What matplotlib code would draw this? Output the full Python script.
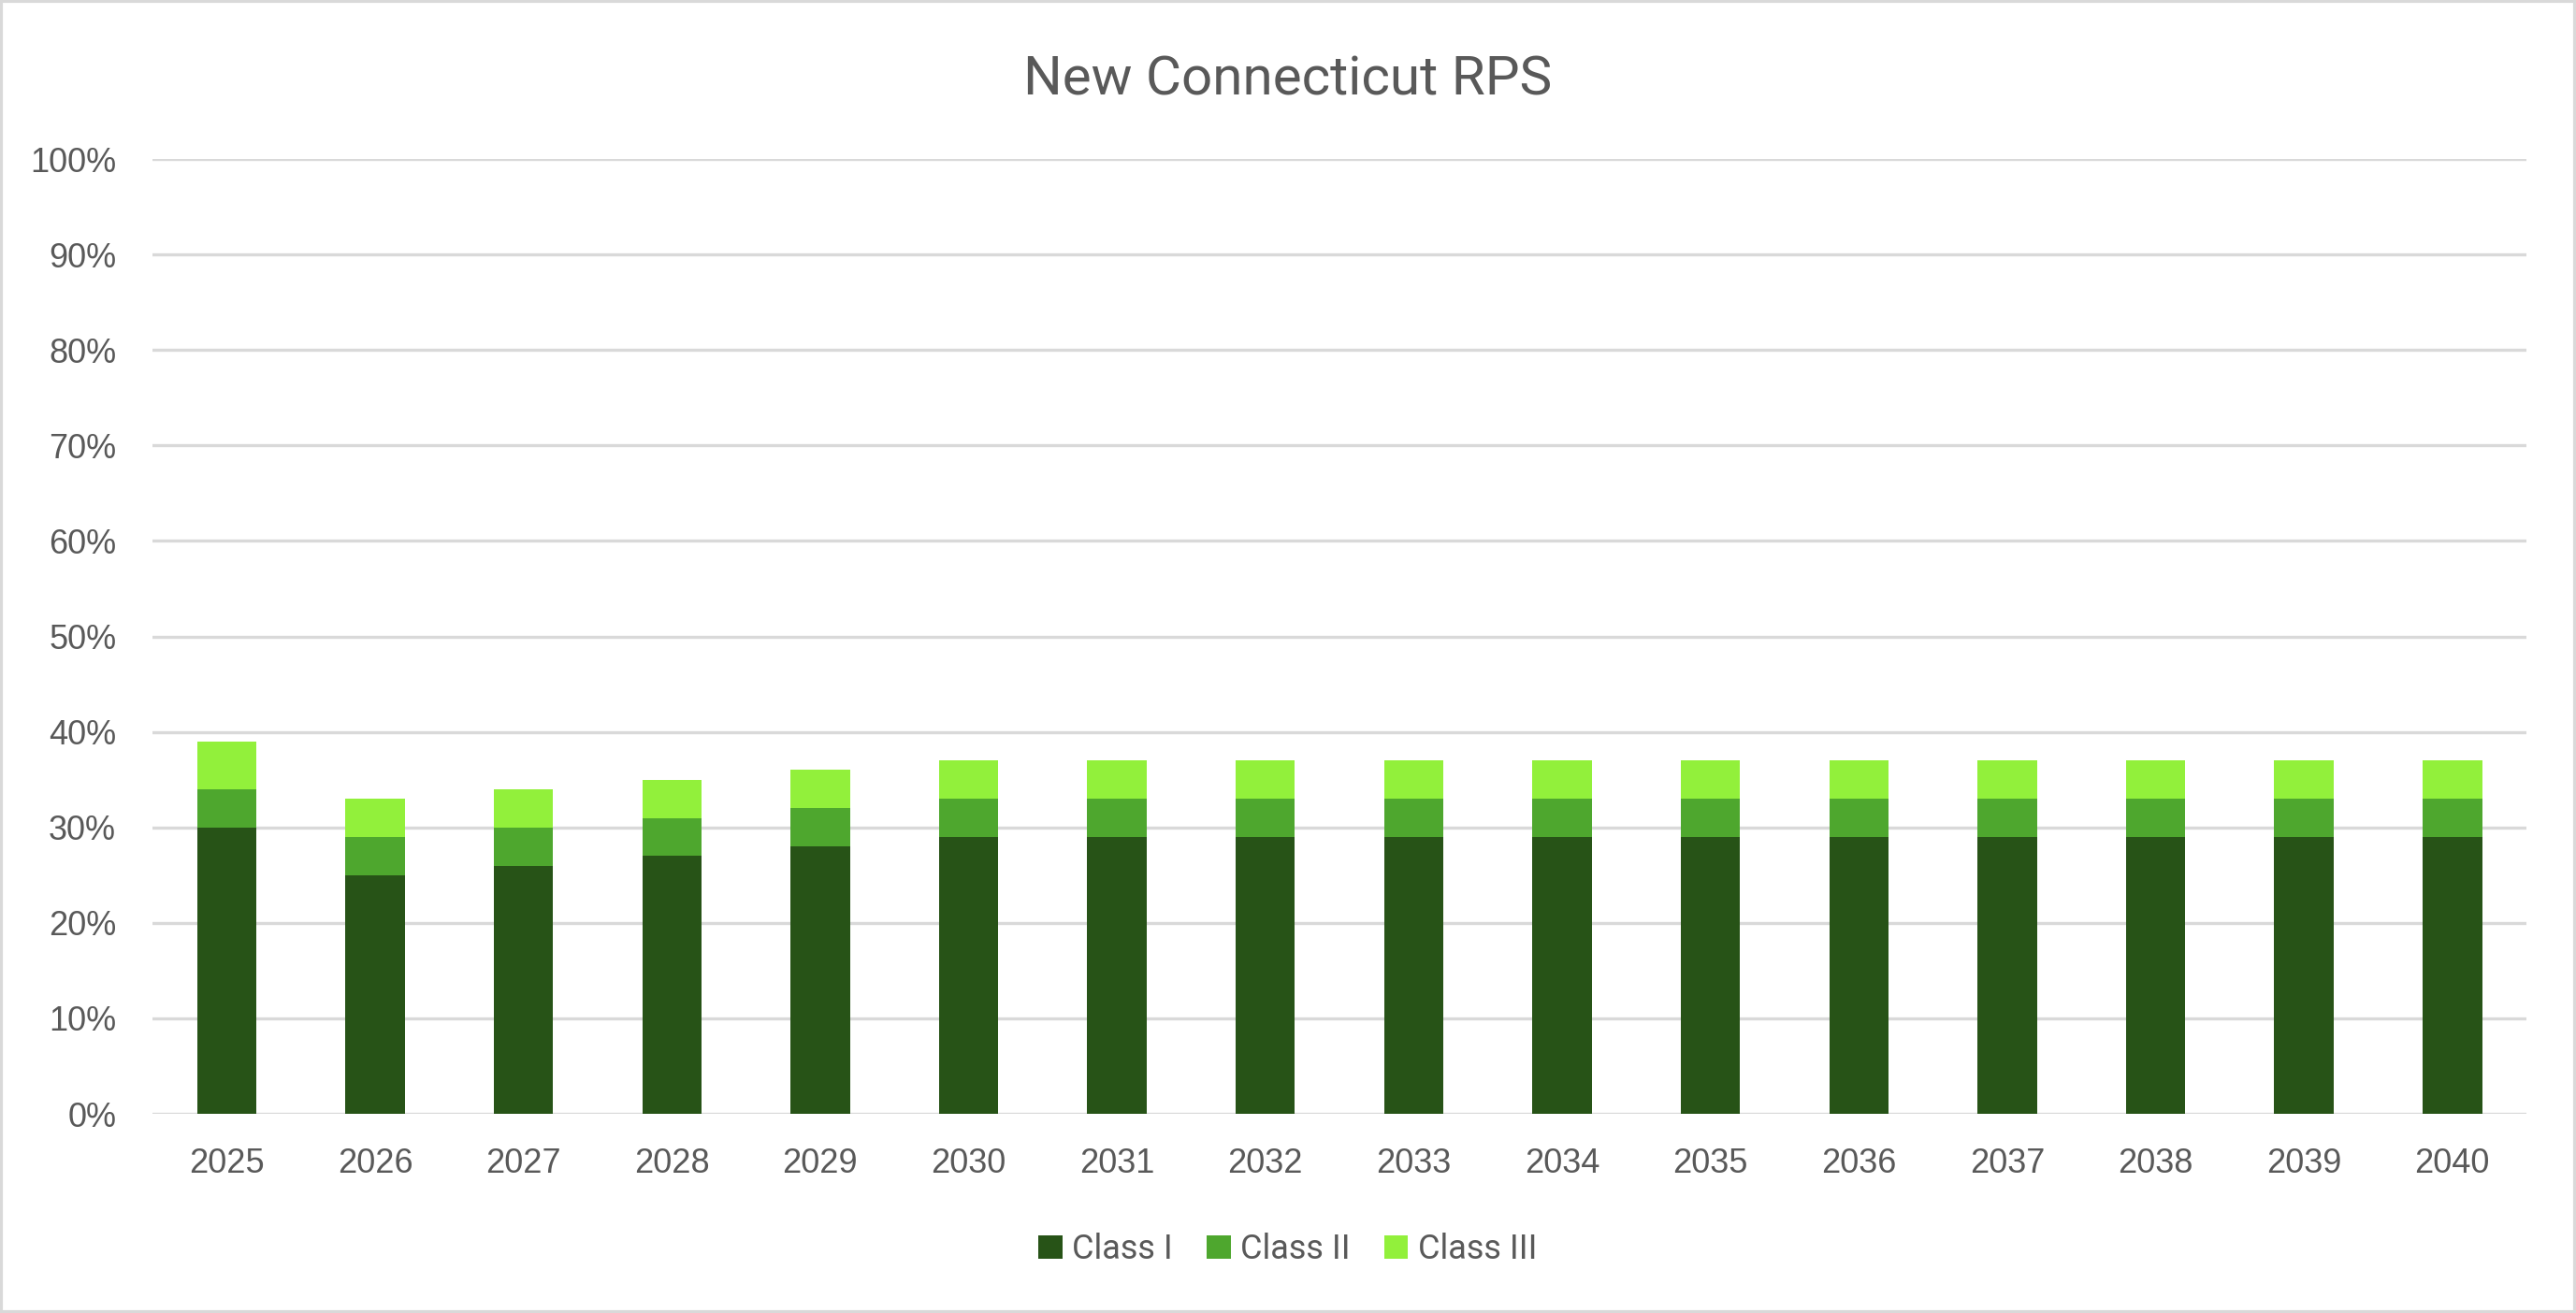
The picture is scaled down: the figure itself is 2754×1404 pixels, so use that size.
import matplotlib
matplotlib.use("Agg")
import matplotlib.pyplot as plt
import numpy as np
from matplotlib.ticker import PercentFormatter
from matplotlib.patches import Rectangle

years = ["2025", "2026", "2027", "2028", "2029", "2030", "2031", "2032",
         "2033", "2034", "2035", "2036", "2037", "2038", "2039", "2040"]
class_1 = [30, 25, 26, 27, 28, 29, 29, 29, 29, 29, 29, 29, 29, 29, 29, 29]
class_2 = [4, 4, 4, 4, 4, 4, 4, 4, 4, 4, 4, 4, 4, 4, 4, 4]
class_3 = [5, 4, 4, 4, 4, 4, 4, 4, 4, 4, 4, 4, 4, 4, 4, 4]
series_names = ["Class I", "Class II", "Class III"]
colors = ["#275317", "#4EA72E", "#92F03B"]

grey = "#595959"

fig = plt.figure(figsize=(13.77, 7.02), dpi=200)
ax = fig.add_axes([0.0592, 0.1517, 0.9216, 0.7272])

x = np.arange(len(years))
bottom = np.zeros(len(years))
for vals, name, c in zip([class_1, class_2, class_3], series_names, colors):
    ax.bar(x, vals, width=0.4, bottom=bottom, color=c, label=name, zorder=3)
    bottom += np.array(vals)

ax.set_xlim(-0.5, len(years) - 0.5)
ax.set_ylim(0, 100)
ax.set_yticks(np.arange(0, 101, 10))
ax.yaxis.set_major_formatter(PercentFormatter(decimals=0))
ax.set_xticks(x)
ax.set_xticklabels(years)
ax.grid(axis="y", color="#D9D9D9", linewidth=1.2, zorder=0)
for s in ax.spines.values():
    s.set_visible(False)
ax.tick_params(length=0, labelsize=13, labelcolor=grey)
ax.tick_params(axis="y", pad=14)
ax.tick_params(axis="x", pad=13)
for lab in ax.get_xticklabels() + ax.get_yticklabels():
    lab.set_family("Liberation Sans")

fig.text(0.5, 1 - 86 / 1404, "New Connecticut RPS", ha="center", va="center",
         fontsize=21, color=grey, family="Roboto")

leg = fig.legend(loc="center", bbox_to_anchor=(0.5, 1 - 1336 / 1404), ncol=3,
                 frameon=False, fontsize=13, handlelength=0.7, handleheight=0.7,
                 handletextpad=0.3, columnspacing=1.0)
for t in leg.get_texts():
    t.set_color(grey)
    t.set_family("Roboto")

fig.patches.append(Rectangle((0.0005, 0.001), 0.999, 0.998, transform=fig.transFigure,
                             fill=False, edgecolor="#D9D9D9", linewidth=1.5))

fig.savefig("out.png", dpi=200)
